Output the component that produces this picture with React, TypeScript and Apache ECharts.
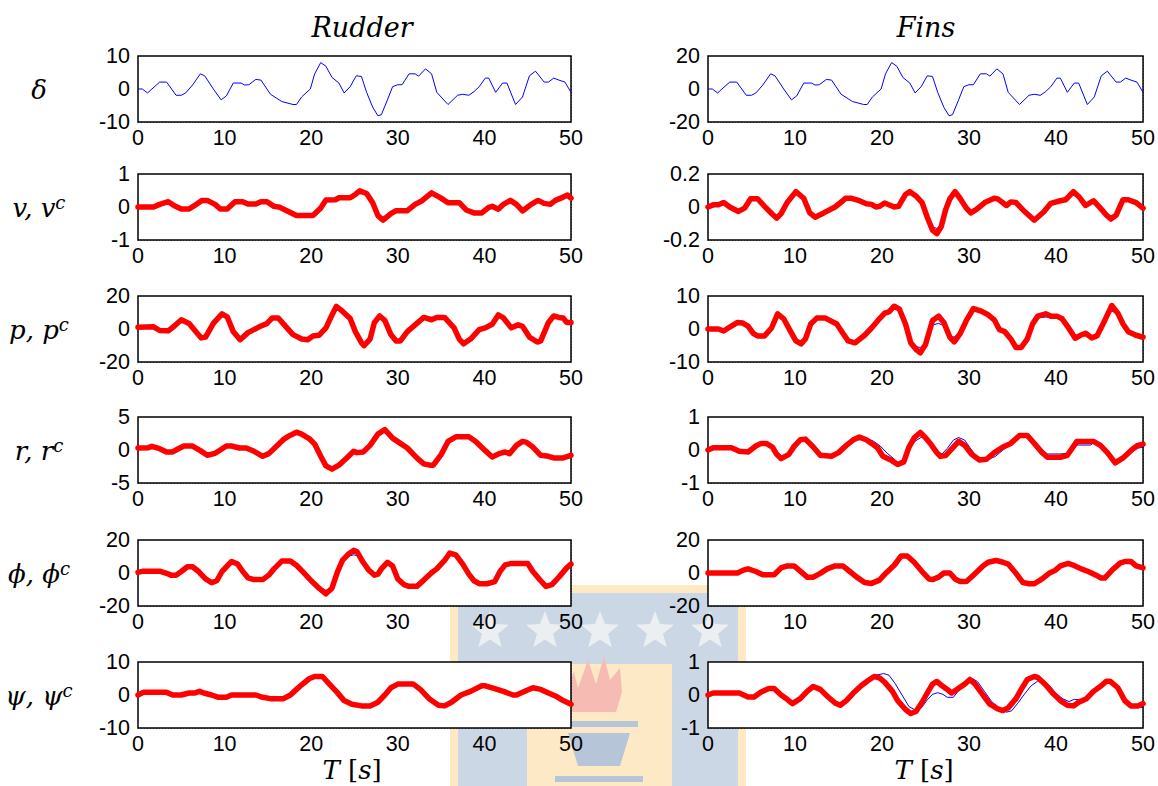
import React, { useEffect, useRef } from "react";
import * as echarts from "echarts";

type Pt = [number, number];

// ---------------- data (time [s], value) ----------------
const xTickValues = [0, 10, 20, 30, 40, 50];
const yLimits = [
  [10, 20],
  [1, 0.2],
  [20, 10],
  [5, 1],
  [20, 20],
  [10, 1],
];
const columnTitles = ["Rudder", "Fins"];
const rowLabelMain = ["δ", "v, v", "p, p", "r, r", "ϕ, ϕ", "ψ, ψ"];
const rowLabelSup = ["", "c", "c", "c", "c", "c"];

const rudderDelta: Pt[] = [[0,0],[0.5,0],[1.1,-1.2],[2.5,2.1],[3.3,2.1],[4.4,-1.9],[5,-1.9],[5.5,-1.2],[6.3,1.2],[7.2,4.6],[7.7,4.0],[8.7,0],[9.6,-3.3],[10.2,-2.1],[11,1.8],[11.9,1.8],[12.3,1.2],[12.8,1.3],[13.6,2.9],[14.2,2.7],[15.3,-1.6],[16.6,-3.8],[17.9,-4.7],[18.3,-4.7],[18.9,-2.4],[19.9,0],[20.4,4.6],[21.1,8.0],[21.7,6.9],[22.4,3.5],[23.2,1.8],[23.8,-1.2],[24.5,0.7],[25.2,4.0],[25.8,3.8],[26.4,-1.0],[27.1,-5.5],[27.7,-8.1],[28.1,-7.8],[28.8,-3.3],[29.4,0.7],[30,1.3],[30.5,1.3],[31.3,4.6],[32,4.6],[32.4,3.9],[33.2,6.1],[33.9,4.6],[34.5,-1.0],[35.8,-4.7],[36.9,-1.9],[37.5,-1.6],[38.2,-1.9],[38.8,-0.8],[39.4,0.7],[40.1,3.3],[40.5,3.3],[41.3,-1.0],[42.1,1.8],[42.6,1.8],[43.6,-4.7],[44.4,-2.4],[45.2,4.0],[45.9,5.4],[46.9,2.1],[47.4,2.1],[48,3.3],[48.6,2.7],[49.3,2.1],[50,-1.0]];
const finsDelta: Pt[] = [[0,0],[0.5,0],[1.1,-2.4],[2.5,4.2],[3.3,4.2],[4.4,-3.8],[5,-3.8],[5.5,-2.4],[6.3,2.4],[7.2,9.2],[7.7,8],[8.7,0],[9.6,-6.6],[10.2,-4.2],[11,3.6],[11.9,3.6],[12.3,2.4],[12.8,2.6],[13.6,5.8],[14.2,5.4],[15.3,-3.2],[16.6,-7.6],[17.9,-9.4],[18.3,-9.4],[18.9,-4.8],[19.9,0],[20.4,9.2],[21.1,16],[21.7,13.8],[22.4,7],[23.2,3.6],[23.8,-2.4],[24.5,1.4],[25.2,8],[25.8,7.6],[26.4,-2],[27.1,-11],[27.7,-16.2],[28.1,-15.6],[28.8,-6.6],[29.4,1.4],[30,2.6],[30.5,2.6],[31.3,9.2],[32,9.2],[32.4,7.8],[33.2,12.2],[33.9,9.2],[34.5,-2],[35.8,-9.4],[36.9,-3.8],[37.5,-3.2],[38.2,-3.8],[38.8,-1.6],[39.4,1.4],[40.1,6.6],[40.5,6.6],[41.3,-2],[42.1,3.6],[42.6,3.6],[43.6,-9.4],[44.4,-4.8],[45.2,8],[45.9,10.8],[46.9,4.2],[47.4,4.2],[48,6.6],[48.6,5.4],[49.3,4.2],[50,-2]];

const rudderVc: Pt[] = [[0,0],[1.8,0],[2.5,0.08],[3.5,0.16],[4.2,0.04],[5,-0.06],[5.9,-0.06],[6.5,0.04],[7.4,0.2],[8,0.2],[8.9,0.08],[9.5,-0.06],[10.3,-0.06],[11.2,0.16],[12.1,0.16],[12.7,0.09],[13.6,0.09],[14.2,0.16],[14.9,0.16],[15.7,0.02],[16.4,-0.01],[17,-0.09],[18.3,-0.26],[20.2,-0.26],[21.1,-0.03],[21.7,0.21],[22.8,0.22],[23.2,0.28],[24.5,0.28],[25.1,0.38],[25.6,0.49],[26.4,0.41],[27.1,0.13],[27.7,-0.26],[28.3,-0.4],[29.2,-0.2],[29.8,-0.11],[31.1,-0.11],[32,0.08],[32.8,0.19],[33.9,0.43],[35,0.27],[35.8,0.13],[37.1,0.13],[37.9,-0.09],[38.8,-0.18],[39.7,-0.18],[40.5,-0.01],[40.9,0.02],[41.6,-0.07],[42.2,0.08],[43,0.2],[43.7,0.08],[44.4,-0.12],[45.4,0.08],[46.2,0.2],[46.9,0.11],[47.6,0.08],[48.2,0.2],[49.1,0.3],[49.6,0.36],[50,0.27]];
const rudderV: Pt[] = rudderVc;

const finsVc: Pt[] = [[0,0],[0.6,0.013],[1.2,0.013],[1.8,0.027],[2.5,0],[3.5,-0.027],[4.2,-0.007],[4.9,0.05],[5.7,0.05],[6.5,0.004],[7.4,-0.044],[7.9,-0.067],[8.4,-0.04],[9.1,0.027],[10.1,0.093],[11,0.053],[11.7,-0.036],[12.3,-0.062],[13.3,-0.036],[14.6,0],[15.5,0.038],[15.8,0.053],[16.5,0.053],[17.4,0.038],[18.2,0.02],[18.8,0.016],[19.3,0],[19.7,0.004],[20.3,0.024],[21.4,0],[21.9,0.004],[22.7,0.076],[23.2,0.093],[23.9,0.067],[24.6,0.027],[25.2,-0.062],[25.8,-0.14],[26.3,-0.162],[26.8,-0.12],[27.3,-0.018],[27.8,0.05],[28.4,0.093],[29,0.05],[29.7,-0.007],[30.2,-0.036],[30.9,-0.013],[31.8,0.027],[32.9,0.053],[33.3,0.049],[34.3,0.009],[34.8,0.031],[35.4,0.027],[36.2,-0.018],[37.5,-0.08],[38.6,-0.029],[39.4,0.022],[40.5,0.038],[41.1,0.044],[42,0.093],[42.6,0.064],[43.4,0.009],[44.3,0.038],[45.1,-0.007],[45.8,-0.05],[46.3,-0.073],[46.9,-0.05],[47.7,0.044],[48.3,0.044],[49.2,0.027],[50,-0.007]];
const finsV: Pt[] = [[0,0],[0.6,0.013],[1.2,0.013],[1.8,0.027],[2.5,0],[3.5,-0.027],[4.2,-0.007],[4.9,0.05],[5.7,0.05],[6.5,0.004],[7.4,-0.044],[7.9,-0.062],[8.4,-0.04],[9.1,0.027],[10.1,0.09],[11,0.053],[11.7,-0.036],[12.3,-0.052],[13.3,-0.036],[14.6,0],[15.5,0.038],[15.8,0.053],[16.5,0.053],[17.4,0.038],[18.2,0.024],[18.8,0.02],[19.3,0.004],[19.7,0.004],[20.3,0.024],[21.4,0],[21.9,0.004],[22.7,0.072],[23.2,0.088],[23.9,0.067],[24.6,0.027],[25.2,-0.058],[25.8,-0.12],[26.3,-0.13],[26.8,-0.11],[27.3,-0.018],[27.8,0.045],[28.4,0.075],[29,0.05],[29.7,-0.007],[30.2,-0.032],[30.9,-0.013],[31.8,0.027],[32.9,0.053],[33.3,0.049],[34.3,0.009],[34.8,0.031],[35.4,0.027],[36.2,-0.018],[37.5,-0.065],[38.6,-0.029],[39.4,0.022],[40.5,0.038],[41.1,0.044],[42,0.09],[42.6,0.064],[43.4,0.009],[44.3,0.038],[45.1,-0.007],[45.8,-0.05],[46.3,-0.068],[46.9,-0.05],[47.7,0.04],[48.3,0.04],[49.2,0.02],[50,-0.01]];

const rudderPc: Pt[] = [[0,1.1],[1.8,1.3],[2.5,-0.9],[3.5,-1.1],[4.2,1.8],[5,5.6],[5.9,3.4],[6.5,-0.4],[7.3,-5.4],[7.8,-4.9],[8.7,3.4],[9.7,9.2],[10.3,7.4],[11,-1.6],[11.8,-6.5],[12.7,-2.2],[14,1.3],[14.9,3.4],[15.5,6.7],[16.2,6.7],[17.2,0.7],[17.9,-3.4],[18.9,-6.1],[19.6,-6.5],[20.2,-4.3],[20.9,-3.8],[21.7,0.7],[22.4,8.5],[22.9,13.7],[23.6,10.8],[24.5,6.3],[25.1,-1.6],[25.8,-8.3],[26.1,-10.1],[26.8,-6.1],[27.3,4.0],[27.9,7.9],[28.5,5.2],[29.2,-3.4],[29.8,-7.2],[30.3,-7.2],[31.1,-1.6],[32,2.5],[33,7.0],[33.9,5.6],[34.5,7.0],[35.4,7.0],[36.5,0.7],[37.1,-6.1],[37.6,-9.0],[38.4,-6.1],[39.4,-0.4],[40.1,0.7],[40.9,2.9],[41.6,8.5],[42.2,6.7],[43.1,0.7],[43.9,2.5],[44.4,1.6],[45.2,-4.9],[46.1,-7.9],[46.5,-7.2],[47.4,4.0],[48,7.9],[48.6,7.0],[49.1,6.7],[49.5,4.0],[50,4.0]];
const rudderP: Pt[] = rudderPc;

const finsPc: Pt[] = [[0,0],[1.2,0],[1.8,-0.6],[2.5,0.6],[3.4,2.0],[4,1.8],[4.6,0.9],[5.2,-1.3],[5.7,-2.1],[6.5,-2.1],[7.3,0.3],[8,4.6],[8.7,3.1],[9.5,-0.8],[10.1,-3.6],[10.7,-4.5],[11.2,-3.0],[11.8,1.5],[12.5,3.3],[13.5,3.3],[14.8,1.5],[15.5,-1.3],[16.1,-3.6],[16.9,-4.2],[18,-1.9],[18.8,0.3],[19.7,3.1],[20.3,4.8],[20.8,5.2],[21.4,6.9],[22,6.0],[22.7,1.5],[23.3,-4.2],[24,-6.4],[24.4,-7.2],[25,-4.7],[25.8,2.6],[26.5,3.9],[27.1,2.0],[27.8,-2.5],[28.3,-3.9],[29,-1.3],[29.7,2.6],[30.5,6.2],[31.4,5.4],[32.2,4.3],[32.9,2.8],[33.5,-0.2],[34.1,-0.8],[34.8,-3.0],[35.4,-5.6],[36,-5.6],[36.7,-3.0],[37.3,1.5],[37.9,3.9],[38.8,4.6],[39.4,3.9],[40.1,3.9],[40.7,3.1],[41.3,0.9],[42.2,-2.8],[42.8,-1.9],[43.4,-1.3],[44.1,-2.7],[44.7,-2.1],[45.6,2.6],[46.4,7.1],[47.1,4.8],[47.7,1.5],[48.3,-0.8],[49.2,-1.9],[50,-2.5]];
const finsP: Pt[] = [[0,0],[1.2,0],[1.8,-0.6],[2.5,0.6],[3.4,2.0],[4,1.8],[4.6,0.9],[5.2,-1.3],[5.7,-2.1],[6.5,-2.1],[7.3,0.3],[8,3.7],[8.7,3.0],[9.5,-0.8],[10.1,-3.4],[10.7,-3.5],[11.2,-2.8],[11.8,1.5],[12.5,3.3],[13.5,3.3],[14.8,1.5],[15.5,-1.3],[16.1,-3.4],[16.9,-4.0],[18,-1.9],[18.8,0.3],[19.7,2.8],[20.3,4.5],[20.8,5.0],[21.4,6.6],[22,6.0],[22.7,1.5],[23.3,-3.8],[24,-5.4],[24.4,-5.6],[25,-4.2],[25.8,1.2],[26.5,1.7],[27.1,1.0],[27.8,-2.4],[28.3,-2.4],[29,-1.3],[29.7,2.6],[30.5,6.0],[31.4,5.4],[32.2,4.3],[32.9,2.8],[33.5,-0.2],[34.1,-0.8],[34.8,-3.0],[35.4,-5.4],[36,-5.4],[36.7,-3.0],[37.3,1.0],[37.9,3.4],[38.8,3.6],[39.4,3.6],[40.1,3.6],[40.7,3.1],[41.3,0.9],[42.2,-2.3],[42.8,-1.6],[43.4,-1.3],[44.1,-2.4],[44.7,-2.1],[45.6,2.2],[46.4,5.5],[47.1,4.5],[47.7,1.5],[48.3,-0.3],[49.2,-1.4],[50,-2.0]];

const rudderRc: Pt[] = [[0,0.3],[1.2,0.35],[1.6,0.55],[2.5,0.2],[3.3,-0.3],[4,-0.3],[4.6,0.15],[5.3,0.6],[6.3,0.6],[7.2,-0.1],[8,-0.8],[8.9,-0.5],[9.5,0],[10.2,0.6],[10.8,0.6],[11.7,0.3],[12.5,0.3],[13.4,-0.2],[14.4,-0.95],[15.1,-0.55],[15.9,0.45],[16.8,1.6],[17.4,2.1],[18.3,2.7],[18.9,2.4],[19.8,1.7],[20.4,0.9],[21.1,-0.95],[21.7,-2.4],[22.4,-2.9],[23.2,-2.3],[24.1,-1.2],[24.9,-0.2],[25.3,-0.4],[26,-0.3],[26.8,0.7],[27.7,2.4],[28.5,3.1],[29.4,1.8],[30.3,1.0],[31.1,0.3],[32.2,-1.2],[33,-2.1],[33.7,-2.3],[34.1,-2.3],[35,-0.7],[35.8,1.3],[36.7,2.0],[38.2,2.0],[39,1.3],[40.1,-0.1],[40.9,-1.05],[41.8,-0.5],[42.4,-0.3],[42.9,-0.55],[43.7,0.7],[44.4,1.3],[44.8,1.2],[45.6,0.45],[46.5,-0.8],[47.4,-0.95],[48,-1.2],[49.1,-1.2],[50,-0.8]];
const rudderR: Pt[] = rudderRc;

const finsRc: Pt[] = [[0,0],[0.6,0.07],[2.7,0.07],[3.6,-0.04],[4.6,-0.06],[5.5,0.12],[6.1,0.2],[6.7,0.2],[7.4,0.09],[7.9,-0.13],[8.4,-0.26],[9.3,-0.13],[9.9,0.11],[10.6,0.31],[11.2,0.33],[12.1,0.09],[12.9,-0.16],[14.2,-0.19],[15,-0.08],[15.9,0.14],[16.7,0.31],[17.4,0.39],[18.2,0.31],[18.8,0.2],[19.5,0.06],[20.1,-0.19],[21,-0.3],[21.8,-0.44],[22.5,-0.36],[23.1,0.09],[23.7,0.37],[24.4,0.53],[25,0.37],[25.6,0.18],[26.3,-0.08],[26.7,-0.19],[27.3,-0.17],[28.2,0.09],[28.8,0.26],[29.5,0.14],[30.3,-0.13],[31.2,-0.3],[32,-0.28],[32.9,-0.08],[33.9,0.09],[34.8,0.2],[35.8,0.44],[36.7,0.44],[37.5,0.2],[38.4,-0.08],[39,-0.22],[40.5,-0.22],[41.3,-0.16],[42.4,0.26],[44.3,0.26],[45.1,0.14],[45.9,-0.08],[46.8,-0.39],[47.7,-0.24],[48.8,0.03],[49.4,0.14],[50,0.18]];
const finsR: Pt[] = [[0,0],[0.6,0.07],[2.7,0.07],[3.6,-0.04],[4.6,-0.06],[5.5,0.12],[6.1,0.2],[6.7,0.2],[7.4,0.06],[7.9,-0.12],[8.4,-0.24],[9.3,-0.13],[9.9,0.1],[10.6,0.3],[11.2,0.32],[12.1,0.09],[12.9,-0.16],[14.2,-0.19],[15,-0.08],[15.9,0.14],[16.7,0.31],[17.4,0.38],[18.2,0.36],[19,0.27],[19.8,0.12],[20.6,-0.1],[21.3,-0.25],[21.9,-0.42],[22.5,-0.36],[23.1,0.02],[23.7,0.25],[24.6,0.4],[25.2,0.3],[25.8,0.1],[26.5,-0.08],[26.9,-0.12],[27.5,0.05],[28.2,0.3],[28.8,0.38],[29.5,0.3],[30.3,0],[31,-0.24],[32.2,-0.28],[33,-0.2],[34,0.02],[35,0.2],[35.8,0.42],[36.7,0.44],[37.5,0.22],[38.4,0.02],[39,-0.12],[40.5,-0.12],[41.3,-0.1],[42.4,0.15],[44,0.15],[44.6,0.29],[45.3,0.16],[46,-0.05],[46.8,-0.36],[47.7,-0.24],[48.8,-0.05],[49.4,0.06],[50,0.08]];

const rudderPhic: Pt[] = [[0,0.4],[0.6,1.1],[2.5,1.1],[3.3,-0.2],[3.8,-1.3],[4.4,-1.3],[5,0.9],[5.7,3.8],[6.3,3.8],[7,0.9],[7.8,-3.6],[8.5,-5.8],[9.1,-4.7],[9.7,0.9],[10.8,7.0],[11.5,5.4],[12.1,0.9],[12.7,-2.9],[13.4,-4.0],[14.4,-4.0],[15.1,-1.3],[15.7,2.5],[16.6,7.2],[17.6,7.2],[18.3,4.7],[19.1,0.4],[20,-4.7],[20.9,-9.2],[21.7,-12.6],[22.4,-9.2],[23,0.2],[23.6,7.6],[24.3,11.5],[24.9,13.7],[25.3,12.8],[26,6.5],[26.6,2.0],[27.3,-1.3],[27.7,-0.7],[28.1,2.5],[28.8,6.5],[29.4,4.3],[30,-3.6],[30.7,-7.0],[31.3,-8.1],[32.2,-8.1],[33,-4.3],[33.9,0.2],[34.5,2.5],[35.4,7.6],[36,12.1],[36.7,11.0],[37.5,5.4],[38.2,-0.7],[38.8,-4.7],[39.4,-6.5],[40.3,-6.5],[41.2,-5.2],[41.8,0.9],[42.4,4.9],[43.1,5.8],[45,5.8],[45.6,0.9],[46.5,-4.7],[47.1,-8.1],[47.8,-7.0],[48.6,-2.5],[49.5,3.1],[50,5.4]];
const rudderPhi: Pt[] = [[0,0.4],[0.6,1.1],[2.5,1.1],[3.3,-0.2],[3.8,-1.3],[4.4,-1.3],[5,0.9],[5.7,3.8],[6.3,3.8],[7,0.9],[7.8,-3.6],[8.5,-5.5],[9.1,-4.7],[9.7,0.9],[10.8,6.6],[11.5,5.4],[12.1,0.9],[12.7,-2.9],[13.4,-3.6],[14.4,-3.6],[15.1,-1.3],[15.7,2.5],[16.6,7.2],[17.6,7.2],[18.3,4.7],[19.1,0.4],[20,-4.2],[20.9,-8.6],[21.7,-10.5],[22.4,-9.0],[23,0.2],[23.6,7.0],[24.3,10.2],[24.9,11.0],[25.3,10.5],[26,6.5],[26.6,2.0],[27.3,-0.8],[27.7,-0.2],[28.1,3.5],[28.8,6.0],[29.4,4.3],[30,-3.6],[30.7,-7.0],[31.3,-8.1],[32.2,-8.1],[33,-4.3],[33.9,0.2],[34.5,2.5],[35.4,7.6],[36,11.0],[36.7,10.5],[37.5,5.4],[38.2,-0.7],[38.8,-3.8],[39.4,-5.8],[40.3,-6.3],[41.2,-5.2],[41.8,0.9],[42.4,4.0],[43.1,4.8],[45,5.8],[45.6,0.9],[46.5,-4.7],[47.1,-7.6],[47.8,-7.0],[48.6,-2.5],[49.5,3.1],[50,5.4]];

const finsPhic: Pt[] = [[0,0],[3.4,0],[4,1.6],[4.6,2.5],[5.5,0.9],[6.3,-1.1],[7.6,-1.1],[8.4,3.1],[9.1,4.3],[9.9,4.3],[10.8,0.2],[11.4,-2.5],[12.1,-2.5],[12.9,-0.2],[13.7,2.5],[14.6,4.3],[15.5,4.3],[16.3,0.9],[17.1,-2.5],[18,-5.8],[18.8,-6.3],[19.7,-4.3],[20.5,0.2],[21.4,4.7],[22.2,10.3],[22.9,10.3],[23.7,6.5],[24.6,0.9],[25.4,-3.6],[25.8,-4.0],[26.5,-2.5],[27.1,0],[27.8,0],[28.4,-3.6],[29,-5.2],[29.7,-5.2],[30.5,-1.3],[31.6,4.3],[32.2,6.5],[33.1,7.6],[33.9,6.5],[34.5,5.4],[35.4,-0.2],[36.2,-5.8],[36.9,-6.5],[37.5,-6.5],[38.4,-3.6],[39.2,-0.2],[39.9,1.6],[40.5,4.3],[41.4,5.8],[42,4.7],[42.9,2.5],[43.7,0.9],[44.6,-1.3],[45.2,-3.1],[45.6,-3.1],[46.5,2.0],[47.4,6.1],[48,7.0],[48.6,7.0],[49.2,4.3],[50,3.1]];
const finsPhi: Pt[] = finsPhic;

const rudderPsic: Pt[] = [[0,0],[0.6,0.8],[3.3,0.8],[4,0],[5,0],[5.9,0.6],[6.5,0.6],[7.1,1.1],[7.6,0.6],[8.5,0],[9.3,-0.7],[10.2,-0.7],[10.8,0],[13.6,0],[14.4,-0.7],[15.3,-1.1],[16.8,-1.1],[17.6,0],[18.3,1.7],[18.9,3.1],[19.8,5.0],[20.4,5.6],[21.3,5.6],[22.1,3.3],[23,0.8],[23.8,-1.7],[24.7,-2.8],[25.8,-3.3],[26.8,-3.3],[27.7,-2.2],[28.5,0],[29.2,2.2],[30,3.3],[31.8,3.3],[32.6,1.7],[33.7,-1.3],[34.7,-3.1],[35.4,-3.3],[36.2,-2.2],[37.3,0],[38.4,1.1],[39.7,2.8],[40.1,2.8],[41.2,1.9],[42.2,1.1],[43.3,0],[43.7,0],[44.8,1.3],[45.6,2.2],[46.5,1.7],[47.4,0.6],[48.2,-0.3],[49.1,-1.7],[50,-2.8]];
const rudderPsi: Pt[] = rudderPsic;

const finsPsic: Pt[] = [[0,0],[0.6,0.06],[3.6,0.06],[4.6,-0.06],[5.3,-0.06],[6.1,0.09],[7,0.2],[7.6,0.2],[8.4,0],[9.1,-0.13],[9.7,-0.26],[10.6,-0.11],[11.4,0.11],[12.1,0.26],[12.9,0.17],[13.8,-0.06],[14.6,-0.24],[15.2,-0.31],[15.9,-0.17],[16.7,0.06],[17.6,0.28],[18.4,0.44],[19.1,0.56],[19.7,0.52],[20.3,0.39],[21.2,0.11],[21.8,-0.17],[22.7,-0.44],[23.3,-0.56],[23.9,-0.5],[24.6,-0.22],[25.2,0.06],[25.8,0.33],[26.3,0.41],[26.9,0.28],[27.5,0.17],[28,0.06],[28.6,0.17],[29.5,0.33],[30.1,0.47],[30.7,0.33],[31.6,0],[32.4,-0.28],[33.3,-0.42],[33.9,-0.47],[34.5,-0.39],[35.4,-0.11],[36,0.17],[36.7,0.47],[37.5,0.56],[37.9,0.53],[38.8,0.31],[39.6,0.06],[40.5,-0.17],[41.3,-0.31],[42,-0.33],[42.6,-0.22],[43.5,-0.11],[44.3,0.11],[45.2,0.28],[45.8,0.42],[46.2,0.42],[47.1,0.22],[47.9,-0.17],[48.6,-0.33],[49.4,-0.33],[50,-0.26]];
const finsPsi: Pt[] = [[0,0],[0.6,0.06],[3.6,0.06],[4.6,-0.06],[5.3,-0.06],[6.1,0.09],[7,0.2],[7.6,0.2],[8.4,0],[9.1,-0.13],[9.7,-0.24],[10.6,-0.11],[11.4,0.1],[12.1,0.2],[12.9,0.16],[13.8,-0.05],[14.6,-0.18],[15.2,-0.28],[15.9,-0.17],[16.7,0.06],[17.6,0.28],[18.4,0.45],[19.3,0.6],[20.2,0.65],[20.8,0.6],[21.5,0.35],[22.3,0],[23.1,-0.35],[23.9,-0.47],[24.5,-0.4],[25.2,-0.15],[25.8,0.02],[26.4,0.07],[27,0.02],[27.5,-0.07],[28.2,-0.07],[29,0.2],[29.8,0.47],[30.4,0.5],[31,0.4],[31.8,0.1],[32.6,-0.2],[33.5,-0.4],[34.3,-0.52],[34.9,-0.48],[35.6,-0.25],[36.3,0],[37.1,0.27],[37.9,0.42],[38.5,0.42],[39.2,0.3],[40,0.05],[40.8,-0.12],[41.5,-0.2],[42.1,-0.13],[42.8,-0.15],[43.5,-0.08],[44.3,0.1],[45.2,0.28],[45.8,0.44],[46.2,0.42],[47.1,0.22],[47.9,-0.15],[48.6,-0.35],[49.4,-0.36],[50,-0.38]];

// blue = measured, red = reference (null for delta rows)
const blueSeries: Pt[][][] = [
  [rudderDelta, finsDelta],
  [rudderV, finsV],
  [rudderP, finsP],
  [rudderR, finsR],
  [rudderPhi, finsPhi],
  [rudderPsi, finsPsi],
];
const redSeries: (Pt[] | null)[][] = [
  [null, null],
  [rudderVc, finsVc],
  [rudderPc, finsPc],
  [rudderRc, finsRc],
  [rudderPhic, finsPhic],
  [rudderPsic, finsPsic],
];

// ---------------- layout ----------------
const COL_LEFT = [138, 708];
const COL_WIDTH = [433, 436];
const ROW_TOP = [56, 174, 296, 417, 540, 662];
const PLOT_H = 66;

const MATH_FONT = "DejaVu Serif";
const TICK_FONT = "Liberation Sans";

function starPoints(cx: number, cy: number, R: number, r: number): number[][] {
  const pts: number[][] = [];
  for (let k = 0; k < 10; k++) {
    const ang = -Math.PI / 2 + (k * Math.PI) / 5;
    const rad = k % 2 === 0 ? R : r;
    pts.push([cx + rad * Math.cos(ang), cy + rad * Math.sin(ang)]);
  }
  return pts;
}

function buildOption() {
  const grid: any[] = [];
  const xAxis: any[] = [];
  const yAxis: any[] = [];
  const series: any[] = [];
  const splitStyle = { color: "#6e6e6e", type: [1, 2], width: 1 };
  let idx = 0;
  for (let row = 0; row < 6; row++) {
    for (let col = 0; col < 2; col++) {
      const m = yLimits[row][col];
      grid.push({
        left: COL_LEFT[col],
        top: ROW_TOP[row],
        width: COL_WIDTH[col],
        height: PLOT_H,
        show: true,
        backgroundColor: "#ffffff",
        borderColor: "#000000",
        borderWidth: 1.5,
        z: 1,
      });
      xAxis.push({
        gridIndex: idx,
        type: "value",
        min: xTickValues[0],
        max: xTickValues[xTickValues.length - 1],
        interval: xTickValues[1] - xTickValues[0],
        axisLine: { show: false },
        axisTick: { show: false },
        axisLabel: {
          color: "#000",
          fontFamily: TICK_FONT,
          fontSize: 21.5,
          margin: 5,
          showMinLabel: true,
          showMaxLabel: true,
        },
        splitLine: { show: true, lineStyle: splitStyle },
      });
      yAxis.push({
        gridIndex: idx,
        type: "value",
        min: -m,
        max: m,
        interval: m,
        axisLine: { show: false },
        axisTick: { show: false },
        axisLabel: {
          color: "#000",
          fontFamily: TICK_FONT,
          fontSize: 21.5,
          margin: 8,
          showMinLabel: true,
          showMaxLabel: true,
        },
        splitLine: { show: true, lineStyle: splitStyle },
      });
      series.push({
        type: "line",
        xAxisIndex: idx,
        yAxisIndex: idx,
        data: blueSeries[row][col],
        showSymbol: false,
        symbol: "none",
        lineStyle: { color: "#0000ff", width: 1 },
        z: 3,
      });
      const red = redSeries[row][col];
      if (red) {
        series.push({
          type: "line",
          xAxisIndex: idx,
          yAxisIndex: idx,
          data: red,
          showSymbol: false,
          symbol: "none",
          lineStyle: { color: "#ff0000", width: 5.5, cap: "round", join: "round" },
          z: 4,
        });
      }
      idx++;
    }
  }

  const graphic: any[] = [];
  // watermark (background emblem)
  graphic.push({ type: "rect", z: -10, shape: { x: 450, y: 585, width: 296, height: 210 }, style: { fill: "#fde9c4" } });
  graphic.push({ type: "rect", z: -10, shape: { x: 458, y: 593, width: 280, height: 200 }, style: { fill: "#cbd7e4" } });
  [490, 545, 600, 655, 710].forEach((cx) => {
    graphic.push({ type: "polygon", z: -10, shape: { points: starPoints(cx, 631, 20, 8.5) }, style: { fill: "#eceff2" } });
  });
  graphic.push({ type: "rect", z: -10, shape: { x: 527, y: 664, width: 145, height: 130 }, style: { fill: "#fde9c6" } });
  graphic.push({
    type: "polygon", z: -10,
    shape: { points: [[572, 712], [566, 690], [574, 672], [578, 688], [588, 660], [596, 684], [604, 656], [610, 680], [620, 668], [622, 692], [616, 712]] },
    style: { fill: "#f6bcb4" },
  });
  graphic.push({ type: "rect", z: -10, shape: { x: 560, y: 721, width: 78, height: 6 }, style: { fill: "#b7c5d8" } });
  graphic.push({ type: "polygon", z: -10, shape: { points: [[568, 733], [630, 733], [620, 766], [578, 766]] }, style: { fill: "#b7c5d8" } });
  graphic.push({ type: "rect", z: -10, shape: { x: 555, y: 776, width: 88, height: 6 }, style: { fill: "#b7c5d8" } });

  // column titles
  const titleX = [362, 926];
  columnTitles.forEach((t, c) => {
    graphic.push({
      type: "text", z: 10, x: titleX[c], y: 27,
      style: { text: t, fill: "#000", font: `italic 27px "${MATH_FONT}"`, align: "center", verticalAlign: "middle" },
    });
  });
  // row labels
  for (let row = 0; row < 6; row++) {
    const sup = rowLabelSup[row];
    graphic.push({
      type: "text", z: 10, x: 39, y: ROW_TOP[row] + PLOT_H / 2 + 1,
      style: {
        text: sup ? `{m|${rowLabelMain[row]}}{s|${sup}}` : `{m|${rowLabelMain[row]}}`,
        align: "center",
        verticalAlign: "middle",
        rich: {
          m: { fontFamily: MATH_FONT, fontStyle: "italic", fontSize: 26, fill: "#000", lineHeight: 30 },
          s: { fontFamily: MATH_FONT, fontStyle: "italic", fontSize: 18, fill: "#000", verticalAlign: "top", lineHeight: 18 },
        },
      },
    });
  }
  // x axis names
  const xNameX = [352, 924];
  xNameX.forEach((x) => {
    graphic.push({
      type: "text", z: 10, x, y: 770,
      style: {
        text: "{i|T}{u| [}{i|s}{u|]}",
        align: "center",
        verticalAlign: "middle",
        rich: {
          i: { fontFamily: MATH_FONT, fontStyle: "italic", fontSize: 26, fill: "#000" },
          u: { fontFamily: MATH_FONT, fontSize: 26, fill: "#000" },
        },
      },
    });
  });

  return { animation: false, backgroundColor: "#ffffff", grid, xAxis, yAxis, series, graphic };
}

export default function App() {
  const ref = useRef<HTMLDivElement>(null);
  useEffect(() => {
    document.body.style.margin = "0";
    const chart = echarts.init(ref.current as HTMLDivElement, null, { renderer: "svg" });
    chart.setOption(buildOption() as any);
    return () => chart.dispose();
  }, []);
  return <div ref={ref} style={{ width: 1158, height: 786 }} />;
}
